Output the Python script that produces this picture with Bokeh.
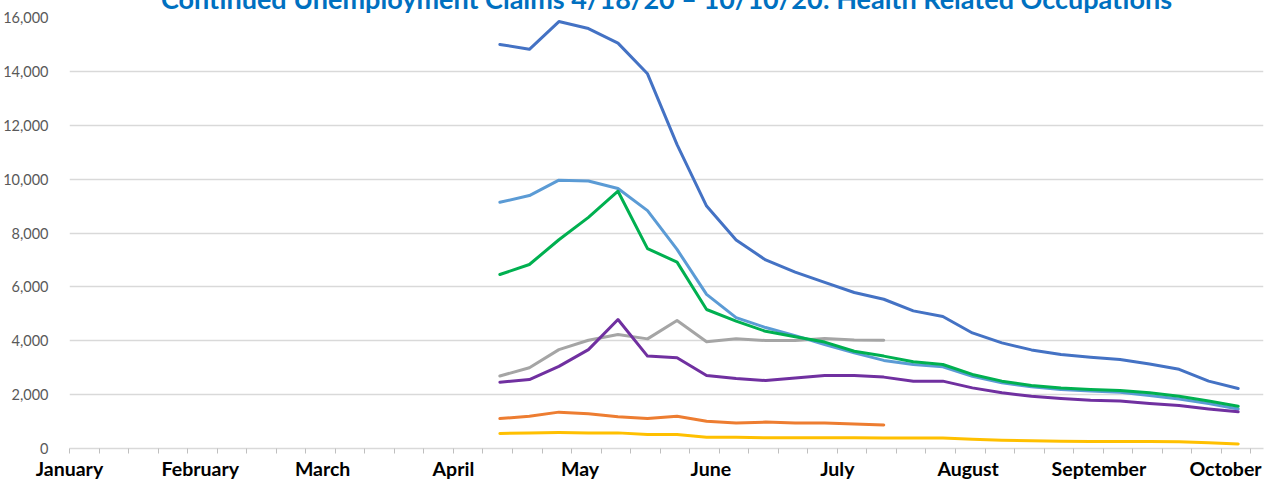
from datetime import datetime, timedelta
from bokeh.plotting import figure
from bokeh.models import Range1d, FixedTicker, NumeralTickFormatter
from bokeh.embed import file_html
from bokeh.resources import INLINE

# Weekly data points (plotted at week start date)
weeks = ["2020-04-12", "2020-04-19", "2020-04-26", "2020-05-03", "2020-05-10",
         "2020-05-17", "2020-05-24", "2020-05-31", "2020-06-07", "2020-06-14",
         "2020-06-21", "2020-06-28", "2020-07-05", "2020-07-12", "2020-07-19",
         "2020-07-26", "2020-08-02", "2020-08-09", "2020-08-16", "2020-08-23",
         "2020-08-30", "2020-09-06", "2020-09-13", "2020-09-20", "2020-09-27",
         "2020-10-04"]

dark_blue = [15000, 14820, 15850, 15590, 15050, 13910, 11280, 9000, 7740, 7000,
             6550, 6170, 5790, 5540, 5110, 4900, 4290, 3920, 3660, 3490,
             3390, 3300, 3140, 2940, 2500, 2230]
orange = [1110, 1200, 1350, 1290, 1180, 1110, 1200, 1010, 950, 980,
          950, 950, 910, 870]
grey = [2690, 3000, 3670, 4020, 4230, 4070, 4750, 3960, 4070, 4010,
        4010, 4080, 4030, 4020]
yellow = [560, 580, 590, 580, 580, 520, 520, 420, 420, 400,
          400, 400, 400, 390, 390, 390, 340, 310, 285, 270,
          260, 260, 260, 250, 210, 170]
light_blue = [9140, 9390, 9960, 9930, 9650, 8830, 7390, 5720, 4860, 4490,
              4190, 3860, 3550, 3270, 3120, 3030, 2680, 2440, 2290, 2190,
              2130, 2090, 1970, 1840, 1670, 1470]
green = [6460, 6830, 7750, 8580, 9550, 7420, 6920, 5160, 4730, 4350,
         4150, 3950, 3610, 3430, 3220, 3120, 2750, 2500, 2340, 2250,
         2190, 2150, 2070, 1940, 1760, 1570]
purple = [2460, 2560, 3050, 3670, 4790, 3430, 3370, 2710, 2600, 2520,
          2620, 2710, 2710, 2650, 2500, 2500, 2250, 2070, 1940, 1860,
          1790, 1760, 1670, 1600, 1470, 1360]

months = ["January", "February", "March", "April", "May", "June",
          "July", "August", "September", "October"]
y_ticks = [0, 2000, 4000, 6000, 8000, 10000, 12000, 14000, 16000]

title = "Continued Unemployment Claims 4/18/20 \u2013 10/10/20: Health Related Occupations"

dates = [datetime.strptime(d, "%Y-%m-%d") for d in weeks]

def ms(d):
    return (d - datetime(1970, 1, 1)).total_seconds() * 1000.0

start = datetime(2020, 1, 1)
end = datetime(2020, 10, 10)

p = figure(width=1270, height=506, x_axis_type="datetime",
           x_range=Range1d(start, end), y_range=Range1d(0, 16000),
           output_backend="svg", toolbar_location=None,
           min_border_left=57, min_border_right=7, min_border_bottom=30,
           styles={"margin-top": "-24px", "margin-bottom": "-24px"})

p.title.text = title
p.title.align = "center"
p.title.text_color = "#0070C0"
p.title.text_font = "Lato"
p.title.text_font_style = "bold"
p.title.text_font_size = "27px"
p.title.standoff = 6

series = [(dark_blue, "#4472C4"), (orange, "#ED7D31"), (grey, "#A5A5A5"),
          (yellow, "#FFC000"), (light_blue, "#5B9BD5"), (green, "#00B050"),
          (purple, "#7030A0")]
for vals, col in series:
    p.line(dates[:len(vals)], vals, line_color=col, line_width=3,
           line_join="round", line_cap="round")

month_ticks = [ms(datetime(2020, i + 1, 1)) for i in range(len(months))]
week_ticks = [ms(start + timedelta(days=7 * k)) for k in range(41)]
p.xaxis.ticker = FixedTicker(ticks=month_ticks, minor_ticks=week_ticks)
p.xaxis.major_label_overrides = {t: m for t, m in zip(month_ticks, months)}
p.xaxis.major_tick_line_color = None
p.xaxis.major_tick_out = 0
p.xaxis.major_tick_in = 0
p.xaxis.minor_tick_line_color = "#BFBFBF"
p.xaxis.minor_tick_out = 5
p.xaxis.minor_tick_in = 0
p.xaxis.axis_line_color = "#D9D9D9"
p.xaxis.axis_line_width = 1.5
p.xaxis.major_label_standoff = 3
p.xaxis.major_label_text_font = "Lato"
p.xaxis.major_label_text_font_style = "bold"
p.xaxis.major_label_text_font_size = "19.5px"
p.xaxis.major_label_text_color = "#000000"

p.yaxis.ticker = FixedTicker(ticks=y_ticks)
p.yaxis.formatter = NumeralTickFormatter(format="0,0")
p.yaxis.axis_line_color = None
p.yaxis.major_tick_line_color = None
p.yaxis.minor_tick_line_color = None
p.yaxis.major_label_standoff = 15
p.yaxis.major_label_text_font = "Lato"
p.yaxis.major_label_text_font_size = "14.5px"
p.yaxis.major_label_text_color = "#595959"

p.xgrid.visible = False
p.ygrid.grid_line_color = "#D9D9D9"
p.ygrid.grid_line_width = 1.5
p.outline_line_color = None

open("out.html", "w").write(file_html(p, INLINE))
